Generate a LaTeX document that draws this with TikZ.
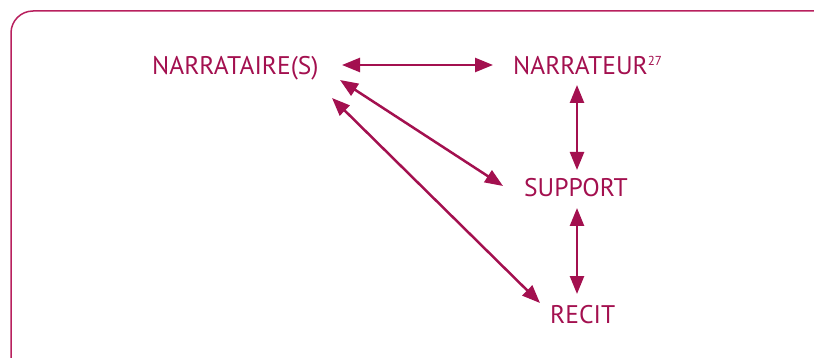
\documentclass[tikz,border=0pt]{standalone}
\usepackage{fontspec}
\setmainfont{PT Sans}
\usetikzlibrary{arrows.meta}
\definecolor{wine}{HTML}{A3104F}
\definecolor{framec}{HTML}{B8205E}
\tikzset{
  lbl/.style={text=wine, font=\fontsize{25.5}{25.5}\selectfont, inner sep=0pt, anchor=base west},
  link/.style={draw=wine, line width=2.5pt, {Triangle[length=18pt,width=14pt]}-{Triangle[length=18pt,width=14pt]}}
}
\begin{document}
\begin{tikzpicture}[x=1pt,y=-1pt]
\useasboundingbox (0,0) rectangle (814,358);
\begin{scope}
\clip (0,0) rectangle (814,358);
\draw[framec, line width=1.5pt, rounded corners=22pt] (11,11) rectangle (860,400);
\end{scope}
\node[lbl] (narrataire) at (152,75) {NARRATAIRE(S)};
\node[lbl] (narrateur) at (513,75) {NARRATEUR\raisebox{9pt}{\fontsize{13}{13}\selectfont 27}};
\node[lbl] (support) at (524,197) {SUPPORT};
\node[lbl] (recit) at (550,323) {RECIT};
\coordinate (a1) at (342,65);
\coordinate (a2) at (493,65);
\draw[link] (a1) -- (a2);
\coordinate (b1) at (577,85);
\coordinate (b2) at (577,170);
\draw[link] (b1) -- (b2);
\coordinate (c1) at (577,208);
\coordinate (c2) at (577,294);
\draw[link] (c1) -- (c2);
\coordinate (d1) at (340,80);
\coordinate (d2) at (503,186);
\draw[link] (d1) -- (d2);
\coordinate (e1) at (332,98);
\coordinate (e2) at (540,303);
\draw[link] (e1) -- (e2);
\end{tikzpicture}
\end{document}
